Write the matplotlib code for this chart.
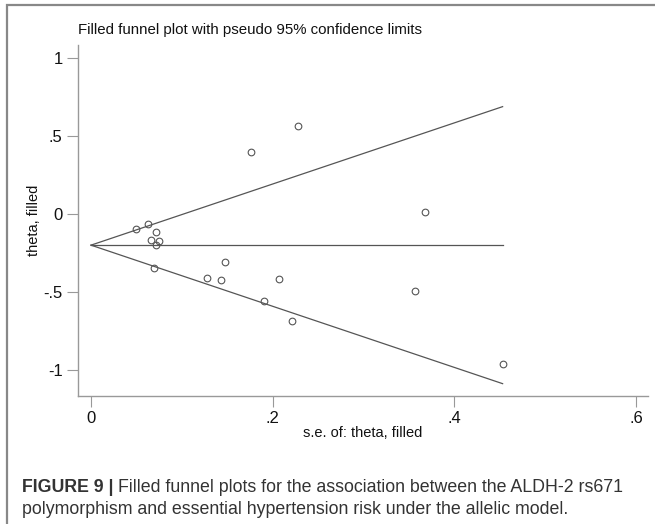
import numpy as np
import matplotlib.pyplot as plt
from matplotlib.patches import Rectangle

plt.rcParams['font.family'] = ['Liberation Sans', 'DejaVu Sans']

# study standard errors and effect sizes (observed + filled)
se = [0.050, 0.063, 0.071, 0.066, 0.075, 0.072, 0.069, 0.128, 0.148, 0.143,
      0.207, 0.190, 0.221, 0.176, 0.228, 0.368, 0.357, 0.453]
theta = [-0.098, -0.062, -0.115, -0.167, -0.171, -0.197, -0.344, -0.410, -0.310, -0.425,
         -0.417, -0.556, -0.686, 0.395, 0.564, 0.013, -0.494, -0.960]
pooled = -0.2
se_max = 0.453

xticks = [0, 0.2, 0.4, 0.6]
xticklabels = ['0', '.2', '.4', '.6']
yticks = [1, 0.5, 0, -0.5, -1]
yticklabels = ['1', '.5', '0', '-.5', '-1']

fig = plt.figure(figsize=(6.55, 5.24), dpi=100)
ax = fig.add_axes([78/655, 1-396/524, 570/655, 351/524])

# funnel lines
s = np.array([0, se_max])
ax.plot(s, pooled + 1.96*s, color='#555555', lw=0.9)
ax.plot(s, pooled - 1.96*s, color='#555555', lw=0.9)
ax.plot(s, [pooled, pooled], color='#555555', lw=0.9)

ax.plot(se, theta, 'o', ms=4.8, mfc='none', mec='#555555', mew=0.8)

ax.set_xlim(-0.0143, 0.613)
ax.set_ylim(-1.167, 1.083)
ax.set_xticks(xticks)
ax.set_xticklabels(xticklabels)
ax.set_yticks(yticks)
ax.set_yticklabels(yticklabels)
for sp in ['top', 'right']:
    ax.spines[sp].set_visible(False)
for sp in ['left', 'bottom']:
    ax.spines[sp].set_color('#999999')
    ax.spines[sp].set_linewidth(1.0)
ax.tick_params(direction='out', length=8, width=0.8, color='#999999',
               labelsize=12, labelcolor='#111111', pad=3)
ax.set_xlabel('s.e. of: theta, filled', fontsize=10.5, color='#111111', labelpad=0)
ax.set_ylabel('theta, filled', fontsize=10.5, color='#111111', labelpad=2)

fig.text(78/655, 1-30/524, 'Filled funnel plot with pseudo 95% confidence limits',
         fontsize=10.8, color='#111111', va='center')

# outer frame
fig.patches.append(Rectangle((7/655, -0.1), 1.2, 1-5/524+0.1, transform=fig.transFigure,
                             fill=False, edgecolor='#888888', lw=1.6))

# caption
r = fig.canvas.get_renderer()
t1 = fig.text(22/655, 1-487/524, 'FIGURE 9 |', fontsize=12.8, fontweight='bold',
              color='#333333', va='center')
bb = t1.get_window_extent(renderer=r)
fig.text((bb.x1 + 4)/655, 1-487/524,
         'Filled funnel plots for the association between the ALDH-2 rs671',
         fontsize=12.8, color='#333333', va='center')
fig.text(22/655, 1-510/524,
         'polymorphism and essential hypertension risk under the allelic model.',
         fontsize=12.8, color='#333333', va='center')

fig.savefig('out.png', dpi=100)
